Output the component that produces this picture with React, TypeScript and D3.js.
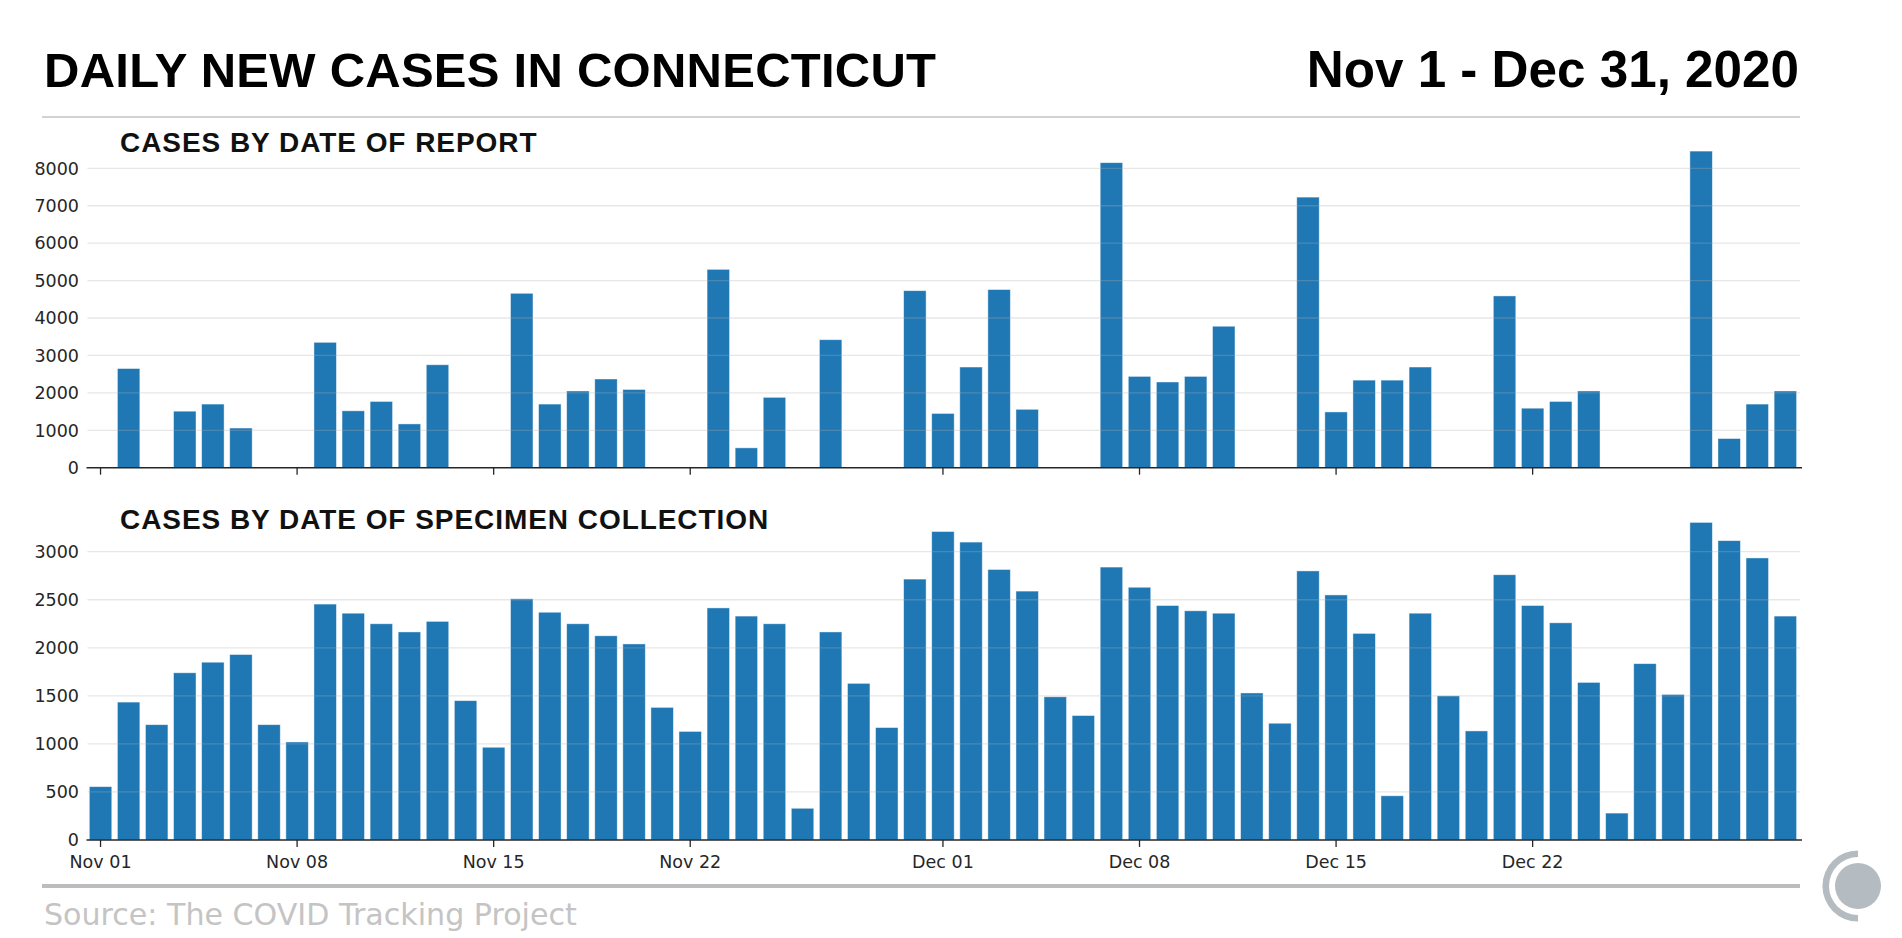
import React from "react";
import * as d3 from "d3";

// ---- DATA ----
const startDate = new Date(2020, 10, 1);
const endDate = new Date(2021, 0, 1);
const days: Date[] = d3.timeDay.range(startDate, endDate);

const reportCases = [
  0, 2650, 0, 1510, 1700, 1060, 0, 0, 3350, 1520, 1770, 1170, 2750, 0, 0, 4660,
  1700, 2050, 2370, 2090, 0, 0, 5300, 530, 1880, 0, 3420, 0, 0, 4730,
  1450, 2690, 4760, 1560, 0, 0, 8150, 2440, 2290, 2440, 3780, 0, 0, 7230,
  1490, 2340, 2340, 2690, 0, 0, 4590, 1590, 1770, 2050, 0, 0, 0, 8460, 780, 1700, 2050,
];

const specimenCases = [
  555, 1435, 1200, 1740, 1850, 1930, 1200, 1020, 2455, 2360, 2250, 2165, 2275, 1450, 965,
  2510, 2370, 2250, 2125, 2040, 1380, 1130, 2415, 2330, 2250, 330, 2165, 1630, 1170, 2715,
  3210, 3100, 2815, 2590, 1490, 1295, 2840, 2630, 2440, 2385, 2360, 1530, 1215, 2800,
  2550, 2150, 460, 2360, 1500, 1135, 2760, 2440, 2260, 1640, 280, 1835, 1515, 3305,
  3115, 2935, 2330,
];

const tickDates = [
  new Date(2020, 10, 1), new Date(2020, 10, 8), new Date(2020, 10, 15), new Date(2020, 10, 22),
  new Date(2020, 11, 1), new Date(2020, 11, 8), new Date(2020, 11, 15), new Date(2020, 11, 22),
];
const reportTicks = [0, 1000, 2000, 3000, 4000, 5000, 6000, 7000, 8000];
const specimenTicks = [0, 500, 1000, 1500, 2000, 2500, 3000];

const titleText = "DAILY NEW CASES IN CONNECTICUT";
const dateText = "Nov 1 - Dec 31, 2020";
const subtitle1 = "CASES BY DATE OF REPORT";
const subtitle2 = "CASES BY DATE OF SPECIMEN COLLECTION";
const sourceText = "Source: The COVID Tracking Project";

// ---- STYLE ----
const W = 1902;
const H = 938;
const BAR = "#1f77b4";
const TICK_FONT = "'DejaVu Sans', sans-serif";
const TITLE_FONT = "'Liberation Sans', Arial, sans-serif";
const fmt = d3.timeFormat("%b %d");
const key = d3.timeFormat("%Y-%m-%d");

const x = d3
  .scaleBand<string>()
  .domain(days.map(key))
  .range([86.5, 1799.4])
  .paddingInner(0.2)
  .paddingOuter(0.1);

type PanelProps = {
  values: number[];
  ticks: number[];
  y: d3.ScaleLinear<number, number>;
  showLabels: boolean;
};

function Panel({ values, ticks, y, showLabels }: PanelProps) {
  const y0 = y(0);
  const gridX0 = 87.5;
  const gridX1 = 1800;
  return (
    <g>
      {days.map((d, i) =>
        values[i] > 0 ? (
          <rect
            key={i}
            x={x(key(d))}
            y={y(values[i])}
            width={x.bandwidth()}
            height={y0 - y(values[i])}
            fill={BAR}
            stroke="#ffffff"
            strokeWidth={0.8}
            strokeOpacity={0.55}
          />
        ) : null
      )}
      {ticks
        .filter((t) => t > 0)
        .map((t) => (
          <line
            key={t}
            x1={gridX0}
            x2={gridX1}
            y1={y(t)}
            y2={y(t)}
            stroke="#b0b0b0"
            strokeOpacity={0.3}
            strokeWidth={1.3}
          />
        ))}
      {ticks.map((t) => (
        <text
          key={"l" + t}
          x={79}
          y={y(t)}
          dy="0.36em"
          textAnchor="end"
          fontFamily={TICK_FONT}
          fontSize={17.5}
          fill="#262626"
        >
          {t}
        </text>
      ))}
      <line x1={86.5} x2={1802} y1={y0} y2={y0} stroke="#262626" strokeWidth={1.6} />
      {tickDates.map((d) => {
        const cx = (x(key(d)) as number) + x.bandwidth() / 2;
        return (
          <g key={key(d)}>
            <line x1={cx} x2={cx} y1={y0} y2={y0 + 7} stroke="#262626" strokeWidth={1.3} />
            {showLabels ? (
              <text
                x={cx}
                y={y0 + 27.5}
                textAnchor="middle"
                fontFamily={TICK_FONT}
                fontSize={17.5}
                fill="#262626"
              >
                {fmt(d)}
              </text>
            ) : null}
          </g>
        );
      })}
    </g>
  );
}

export default function App() {
  React.useEffect(() => {
    document.body.style.margin = "0";
    document.body.style.overflow = "hidden";
  }, []);

  const yTop = d3.scaleLinear().domain([0, 8000]).range([467.7, 168.3]);
  const yBot = d3.scaleLinear().domain([0, 3000]).range([840, 551.7]);

  const logoX = 1858;
  const logoY = 886;
  const arcR = 32.3;
  const arcPath = d3.arc()({
    innerRadius: arcR - 3.3,
    outerRadius: arcR + 3.3,
    startAngle: Math.PI,
    endAngle: 2 * Math.PI,
  }) as string;

  return (
    <svg
      width={W}
      height={H}
      viewBox={`0 0 ${W} ${H}`}
      style={{ position: "absolute", left: 0, top: 0, background: "#fff" }}
    >
      <rect x={0} y={0} width={W} height={H} fill="#ffffff" />
      <text
        x={44}
        y={87}
        fontFamily={TITLE_FONT}
        fontWeight={700}
        fontSize={49}
        letterSpacing={0.25}
        fill="#000"
      >
        {titleText}
      </text>
      <text
        x={1799}
        y={87}
        textAnchor="end"
        fontFamily={TITLE_FONT}
        fontWeight={700}
        fontSize={51.2}
        fill="#000"
      >
        {dateText}
      </text>
      <line x1={42} x2={1800} y1={117} y2={117} stroke="#d2d2d2" strokeWidth={2} />

      <text
        x={120}
        y={152}
        fontFamily={TITLE_FONT}
        fontWeight={700}
        fontSize={28}
        letterSpacing={0.95}
        fill="#111"
      >
        {subtitle1}
      </text>
      <Panel values={reportCases} ticks={reportTicks} y={yTop} showLabels={false} />

      <text
        x={120}
        y={529}
        fontFamily={TITLE_FONT}
        fontWeight={700}
        fontSize={28}
        letterSpacing={0.95}
        fill="#111"
      >
        {subtitle2}
      </text>
      <Panel values={specimenCases} ticks={specimenTicks} y={yBot} showLabels={true} />

      <line x1={42} x2={1800} y1={886} y2={886} stroke="#bdbdbd" strokeWidth={4} />
      <text x={44} y={925} fontFamily={TICK_FONT} fontSize={30.1} fill="#c4c4c4">
        {sourceText}
      </text>

      <g transform={`translate(${logoX},${logoY})`}>
        <path d={arcPath} fill="#b4bcc1" />
        <circle r={23} fill="#b4bcc1" />
      </g>
    </svg>
  );
}
